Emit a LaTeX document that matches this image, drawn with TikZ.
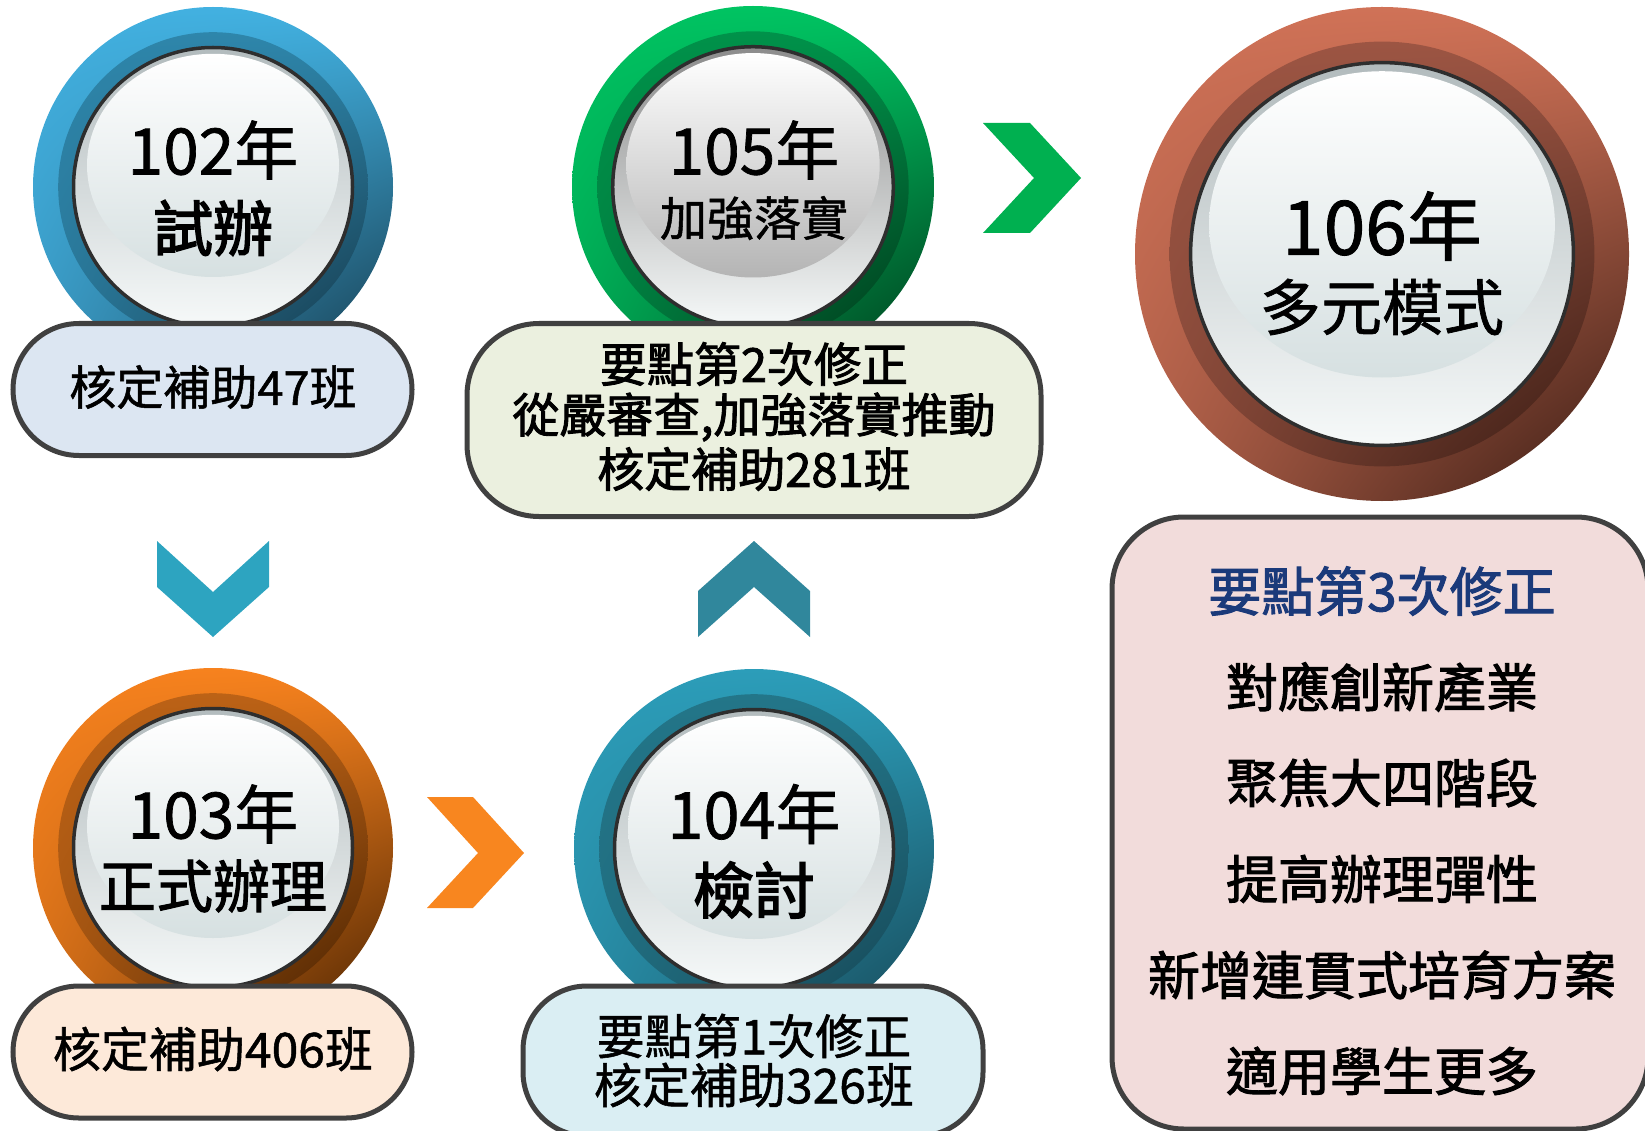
\documentclass[tikz,border=0pt]{standalone}
\usepackage{fontspec}
\newfontfamily\cjk{Noto Sans CJK TC}[FakeBold=1.1]
\newfontfamily\cjkb{Noto Sans CJK TC}[FakeBold=2.6]
\newfontfamily\cjkm{Noto Sans CJK TC}[FakeBold=1.9]
\usetikzlibrary{calc,shadings}
\definecolor{bla}{HTML}{42B1E1}\definecolor{blb}{HTML}{163A4C}\definecolor{blc}{HTML}{2E86AB}
\definecolor{ora}{HTML}{F7821E}\definecolor{orb}{HTML}{452000}\definecolor{orc}{HTML}{BC6216}
\definecolor{tea}{HTML}{2C9DB9}\definecolor{teb}{HTML}{164655}\definecolor{tec}{HTML}{237689}
\definecolor{gra}{HTML}{00C462}\definecolor{grb}{HTML}{00381A}\definecolor{grc}{HTML}{00924A}
\definecolor{bra}{HTML}{D07257}\definecolor{brb}{HTML}{361A12}\definecolor{brc}{HTML}{9C5543}
\definecolor{disctop}{HTML}{B2BBBD}\definecolor{discbot}{HTML}{F6F9F9}\definecolor{hlbot}{HTML}{D6E0E1}
\definecolor{gdisctop}{HTML}{8C8C8C}\definecolor{ghlbot}{HTML}{B4B4B4}
\definecolor{ringline}{HTML}{2E2E2E}
\definecolor{pillline}{HTML}{404040}
\definecolor{fa}{HTML}{DCE6F2}\definecolor{fb}{HTML}{FDE9D9}\definecolor{fc}{HTML}{DAEEF3}
\definecolor{fd}{HTML}{EBF0DF}\definecolor{fe}{HTML}{F2DCDB}
\definecolor{navy}{HTML}{1B3A7A}
\definecolor{chgreen}{HTML}{00B050}\definecolor{chorange}{HTML}{F8861F}
\definecolor{chblue}{HTML}{2DA4C0}\definecolor{chteal}{HTML}{30879C}
\newcommand{\mybadge}[9]{%
  \coordinate (#1) at (#2,#3);
  \shade[upper left=#5, upper right=#5, lower left=#5!80!#6, lower right=#6] (#1) circle[radius=#4];
  \shade[upper left=#7, upper right=#7, lower left=#7!80!#6, lower right=#6] (#1) circle[radius=0.86*#4];
  \path[shade, top color=#8, bottom color=discbot, draw=ringline, line width=3.5pt] (#1) circle[radius=0.775*#4];
  \shade[top color=white, bottom color=#9] ([yshift={0.12*#4pt}]#1) ellipse[x radius=0.7*#4, y radius=0.62*#4];
}
\newcommand{\fs}[1]{\fontsize{#1}{#1}\selectfont}
\begin{document}
\begin{tikzpicture}[x=1pt,y=-1pt,
  boxshape/.style={draw=pillline, line width=5pt, inner sep=0pt},
  txt/.style={inner sep=0pt, anchor=center, font=\cjk}]
\useasboundingbox (0,0) rectangle (1645,1131);
% badges
\mybadge{c102}{213}{187}{180}{bla}{blb}{blc}{disctop}{hlbot}
\mybadge{c103}{213}{848}{180}{ora}{orb}{orc}{disctop}{hlbot}
\mybadge{c104}{754}{849}{180}{tea}{teb}{tec}{disctop}{hlbot}
\mybadge{c105}{753}{187}{181}{gra}{grb}{grc}{gdisctop}{ghlbot}
\mybadge{c106}{1382}{254}{247}{bra}{brb}{brc}{disctop}{hlbot}
% badge texts
\node[txt, font=\cjk\fs{64}] (t102a) at (213,150) {102年};
\node[txt, font=\cjkb\fs{60}] (t102b) at (213,228) {試辦};
\node[txt, font=\cjk\fs{64}] (t103a) at (213,814) {103年};
\node[txt, font=\cjkm\fs{57}] (t103b) at (213,886) {正式辦理};
\node[txt, font=\cjk\fs{65}] (t104a) at (754,814) {104年};
\node[txt, font=\cjkb\fs{61}] (t104b) at (754,890) {檢討};
\node[txt, font=\cjk\fs{64}] (t105a) at (754,150) {105年};
\node[txt, font=\cjk\fs{47}] (t105b) at (754,218) {加強落實};
\node[txt, font=\cjk\fs{75}] (t106a) at (1382,226) {106年};
\node[txt, font=\cjk\fs{61}] (t106b) at (1382,307) {多元模式};
% boxes
\node[boxshape, fill=fa, minimum width=399pt, minimum height=132pt, rounded corners=66pt] (p102) at (212.5,389.5) {};
\node[boxshape, fill=fb, minimum width=399pt, minimum height=132pt, rounded corners=66pt] (p103) at (212.5,1052) {};
\node[boxshape, fill=fc, minimum width=460pt, minimum height=150pt, rounded corners=64pt] (p104) at (753,1061) {};
\node[boxshape, fill=fd, minimum width=574pt, minimum height=193pt, rounded corners=72pt] (p105) at (754,420) {};
\node[boxshape, fill=fe, minimum width=536pt, minimum height=612pt, rounded corners=72pt] (p106) at (1380,823) {};
% box texts
\node[txt, font=\cjk\fs{47}] (l102) at (213,387) {核定補助47班};
\node[txt, font=\cjk\fs{48}] (l103) at (213,1049) {核定補助406班};
\node[txt, font=\cjk\fs{48}] (l104a) at (754,1036) {要點第1次修正};
\node[txt, font=\cjk\fs{48}] (l104b) at (754,1085) {核定補助326班};
\node[txt, font=\cjkm\fs{47}] (l105a) at (754,364) {要點第2次修正};
\node[txt, font=\cjkm\fs{47}] (l105b) at (754,417) {從嚴審查,加強落實推動};
\node[txt, font=\cjkm\fs{47}] (l105c) at (754,469) {核定補助281班};
\node[txt, font=\cjkm\fs{53}, text=navy] (l106a) at (1382,591) {要點第3次修正};
\node[txt, font=\cjkm\fs{52}] (l106b) at (1382,687) {對應創新產業};
\node[txt, font=\cjkm\fs{52}] (l106c) at (1382,783) {聚焦大四階段};
\node[txt, font=\cjkm\fs{52}] (l106d) at (1382,879) {提高辦理彈性};
\node[txt, font=\cjkm\fs{52}] (l106e) at (1382,975) {新增連貫式培育方案};
\node[txt, font=\cjkm\fs{52}] (l106f) at (1382,1071) {適用學生更多};
% chevrons
\fill[chgreen] (983,123) -- (1030,123) -- (1081,178) -- (1030,233) -- (983,233) -- (1034,178) -- cycle;
\fill[chorange] (427,797) -- (473,797) -- (524,853) -- (473,908) -- (427,908) -- (478,853) -- cycle;
\fill[chblue] (157,541) -- (213,592) -- (269,541) -- (269,587) -- (213,637) -- (157,587) -- cycle;
\fill[chteal] (754,541) -- (810,591) -- (810,637) -- (754,587) -- (698,637) -- (698,591) -- cycle;
\end{tikzpicture}
\end{document}
